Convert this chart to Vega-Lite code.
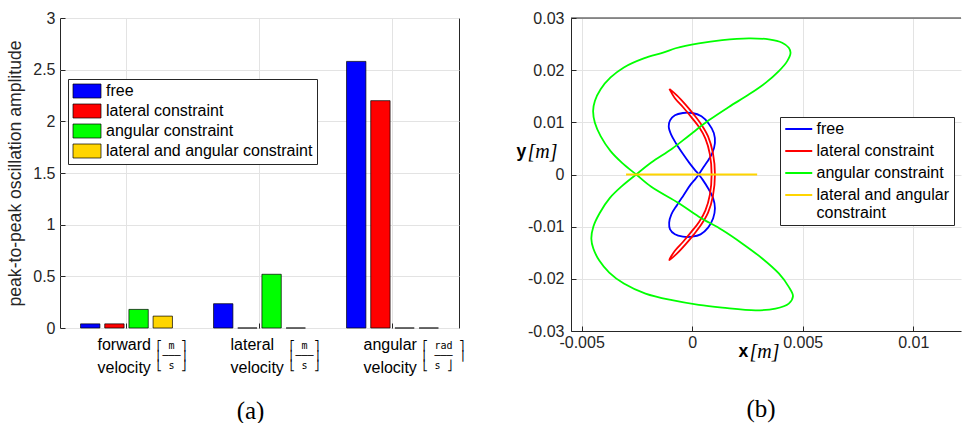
{
  "$schema": "https://vega.github.io/schema/vega-lite/v6.json",
  "usermeta": {"embedOptions": {"actions": false}},
  "background": "white",
  "padding": {"left": 6, "top": 9, "right": 0, "bottom": 0},
  "config": {
    "font": "Liberation Sans",
    "axis": {
      "labelFont": "Liberation Sans", "labelFontSize": 16, "labelColor": "#262626",
      "titleFont": "Liberation Sans", "titleFontWeight": "normal", "titleColor": "#262626",
      "domainColor": "#262626", "tickColor": "#262626", "gridColor": "#e3e3e3", "gridOpacity": 1
    },
    "view": {"stroke": "#262626", "strokeWidth": 1},
    "legend": {"labelFont": "Liberation Sans", "labelFontSize": 16, "labelColor": "#000"}
  },
  "datasets": {
    "bars": [
      {"cat": "forward velocity", "type": "free", "v": 0.04},
      {"cat": "forward velocity", "type": "lateral constraint", "v": 0.04},
      {"cat": "forward velocity", "type": "angular constraint", "v": 0.18},
      {"cat": "forward velocity", "type": "lateral and angular constraint", "v": 0.115},
      {"cat": "lateral velocity", "type": "free", "v": 0.235},
      {"cat": "lateral velocity", "type": "lateral constraint", "v": 0},
      {"cat": "lateral velocity", "type": "angular constraint", "v": 0.52},
      {"cat": "lateral velocity", "type": "lateral and angular constraint", "v": 0},
      {"cat": "angular velocity", "type": "free", "v": 2.58},
      {"cat": "angular velocity", "type": "lateral constraint", "v": 2.2},
      {"cat": "angular velocity", "type": "angular constraint", "v": 0},
      {"cat": "angular velocity", "type": "lateral and angular constraint", "v": 0}
    ],
    "traj": [
      {"s": "free", "i": 0, "x": 0.00030, "y": 0},
      {"s": "free", "i": 1, "x": 0.00048, "y": 0.00122},
      {"s": "free", "i": 2, "x": 0.00069, "y": 0.00250},
      {"s": "free", "i": 3, "x": 0.00091, "y": 0.00410},
      {"s": "free", "i": 4, "x": 0.00103, "y": 0.00603},
      {"s": "free", "i": 5, "x": 0.00098, "y": 0.00795},
      {"s": "free", "i": 6, "x": 0.00075, "y": 0.00974},
      {"s": "free", "i": 7, "x": 0.00042, "y": 0.01115},
      {"s": "free", "i": 8, "x": 0.00000, "y": 0.01179},
      {"s": "free", "i": 9, "x": -0.00042, "y": 0.01179},
      {"s": "free", "i": 10, "x": -0.00078, "y": 0.01135},
      {"s": "free", "i": 11, "x": -0.00100, "y": 0.01038},
      {"s": "free", "i": 12, "x": -0.00106, "y": 0.00923},
      {"s": "free", "i": 13, "x": -0.00095, "y": 0.00763},
      {"s": "free", "i": 14, "x": -0.00072, "y": 0.00590},
      {"s": "free", "i": 15, "x": -0.00042, "y": 0.00397},
      {"s": "free", "i": 16, "x": -0.00012, "y": 0.00218},
      {"s": "free", "i": 17, "x": 0.00012, "y": 0.00090},
      {"s": "free", "i": 18, "x": 0.00030, "y": 0},
      {"s": "free", "i": 19, "x": 0.00048, "y": -0.00103},
      {"s": "free", "i": 20, "x": 0.00072, "y": -0.00263},
      {"s": "free", "i": 21, "x": 0.00095, "y": -0.00455},
      {"s": "free", "i": 22, "x": 0.00103, "y": -0.00647},
      {"s": "free", "i": 23, "x": 0.00095, "y": -0.00840},
      {"s": "free", "i": 24, "x": 0.00072, "y": -0.01019},
      {"s": "free", "i": 25, "x": 0.00038, "y": -0.01147},
      {"s": "free", "i": 26, "x": 0.00000, "y": -0.01192},
      {"s": "free", "i": 27, "x": -0.00042, "y": -0.01192},
      {"s": "free", "i": 28, "x": -0.00078, "y": -0.01147},
      {"s": "free", "i": 29, "x": -0.00100, "y": -0.01051},
      {"s": "free", "i": 30, "x": -0.00104, "y": -0.00923},
      {"s": "free", "i": 31, "x": -0.00094, "y": -0.00763},
      {"s": "free", "i": 32, "x": -0.00068, "y": -0.00583},
      {"s": "free", "i": 33, "x": -0.00038, "y": -0.00391},
      {"s": "free", "i": 34, "x": -0.00008, "y": -0.00199},
      {"s": "free", "i": 35, "x": 0.00015, "y": -0.00083},
      {"s": "free", "i": 36, "x": 0.00030, "y": 0},
      {"s": "lateral constraint", "i": 0, "x": -0.00103, "y": 0.01641},
      {"s": "lateral constraint", "i": 1, "x": -0.00068, "y": 0.01513},
      {"s": "lateral constraint", "i": 2, "x": -0.00030, "y": 0.01340},
      {"s": "lateral constraint", "i": 3, "x": 0.00008, "y": 0.01147},
      {"s": "lateral constraint", "i": 4, "x": 0.00042, "y": 0.00955},
      {"s": "lateral constraint", "i": 5, "x": 0.00072, "y": 0.00731},
      {"s": "lateral constraint", "i": 6, "x": 0.00094, "y": 0.00410},
      {"s": "lateral constraint", "i": 7, "x": 0.00103, "y": 0},
      {"s": "lateral constraint", "i": 8, "x": 0.00094, "y": -0.00410},
      {"s": "lateral constraint", "i": 9, "x": 0.00072, "y": -0.00731},
      {"s": "lateral constraint", "i": 10, "x": 0.00042, "y": -0.00955},
      {"s": "lateral constraint", "i": 11, "x": 0.00008, "y": -0.01147},
      {"s": "lateral constraint", "i": 12, "x": -0.00030, "y": -0.01340},
      {"s": "lateral constraint", "i": 13, "x": -0.00068, "y": -0.01513},
      {"s": "lateral constraint", "i": 14, "x": -0.00103, "y": -0.01641},
      {"s": "lateral constraint", "i": 15, "x": -0.00078, "y": -0.01462},
      {"s": "lateral constraint", "i": 16, "x": -0.00041, "y": -0.01289},
      {"s": "lateral constraint", "i": 17, "x": -0.00003, "y": -0.01096},
      {"s": "lateral constraint", "i": 18, "x": 0.00032, "y": -0.00904},
      {"s": "lateral constraint", "i": 19, "x": 0.00060, "y": -0.00686},
      {"s": "lateral constraint", "i": 20, "x": 0.00080, "y": -0.00391},
      {"s": "lateral constraint", "i": 21, "x": 0.00088, "y": 0},
      {"s": "lateral constraint", "i": 22, "x": 0.00080, "y": 0.00391},
      {"s": "lateral constraint", "i": 23, "x": 0.00060, "y": 0.00686},
      {"s": "lateral constraint", "i": 24, "x": 0.00032, "y": 0.00904},
      {"s": "lateral constraint", "i": 25, "x": -0.00003, "y": 0.01096},
      {"s": "lateral constraint", "i": 26, "x": -0.00041, "y": 0.01289},
      {"s": "lateral constraint", "i": 27, "x": -0.00078, "y": 0.01462},
      {"s": "lateral constraint", "i": 28, "x": -0.00103, "y": 0.01641},
      {"s": "angular constraint", "i": 0, "x": -0.00253, "y": 0},
      {"s": "angular constraint", "i": 1, "x": -0.00185, "y": 0.00230},
      {"s": "angular constraint", "i": 2, "x": -0.00091, "y": 0.00494},
      {"s": "angular constraint", "i": 3, "x": -0.00015, "y": 0.00744},
      {"s": "angular constraint", "i": 4, "x": 0.00075, "y": 0.01038},
      {"s": "angular constraint", "i": 5, "x": 0.00166, "y": 0.01295},
      {"s": "angular constraint", "i": 6, "x": 0.00256, "y": 0.01532},
      {"s": "angular constraint", "i": 7, "x": 0.00332, "y": 0.01756},
      {"s": "angular constraint", "i": 8, "x": 0.00392, "y": 0.01981},
      {"s": "angular constraint", "i": 9, "x": 0.00430, "y": 0.02173},
      {"s": "angular constraint", "i": 10, "x": 0.00445, "y": 0.02333},
      {"s": "angular constraint", "i": 11, "x": 0.00437, "y": 0.02429},
      {"s": "angular constraint", "i": 12, "x": 0.00407, "y": 0.02526},
      {"s": "angular constraint", "i": 13, "x": 0.00347, "y": 0.02590},
      {"s": "angular constraint", "i": 14, "x": 0.00256, "y": 0.02609},
      {"s": "angular constraint", "i": 15, "x": 0.00136, "y": 0.02577},
      {"s": "angular constraint", "i": 16, "x": 0.00030, "y": 0.02515},
      {"s": "angular constraint", "i": 17, "x": -0.00075, "y": 0.02420},
      {"s": "angular constraint", "i": 18, "x": -0.00128, "y": 0.02340},
      {"s": "angular constraint", "i": 19, "x": -0.00219, "y": 0.02225},
      {"s": "angular constraint", "i": 20, "x": -0.00309, "y": 0.02052},
      {"s": "angular constraint", "i": 21, "x": -0.00369, "y": 0.01860},
      {"s": "angular constraint", "i": 22, "x": -0.00414, "y": 0.01635},
      {"s": "angular constraint", "i": 23, "x": -0.00440, "y": 0.01410},
      {"s": "angular constraint", "i": 24, "x": -0.00448, "y": 0.01218},
      {"s": "angular constraint", "i": 25, "x": -0.00440, "y": 0.00994},
      {"s": "angular constraint", "i": 26, "x": -0.00414, "y": 0.00737},
      {"s": "angular constraint", "i": 27, "x": -0.00369, "y": 0.00449},
      {"s": "angular constraint", "i": 28, "x": -0.00317, "y": 0.00224},
      {"s": "angular constraint", "i": 29, "x": -0.00253, "y": 0},
      {"s": "angular constraint", "i": 30, "x": -0.00185, "y": -0.00235},
      {"s": "angular constraint", "i": 31, "x": -0.00060, "y": -0.00551},
      {"s": "angular constraint", "i": 32, "x": 0.00030, "y": -0.00808},
      {"s": "angular constraint", "i": 33, "x": 0.00136, "y": -0.01064},
      {"s": "angular constraint", "i": 34, "x": 0.00226, "y": -0.01321},
      {"s": "angular constraint", "i": 35, "x": 0.00317, "y": -0.01609},
      {"s": "angular constraint", "i": 36, "x": 0.00392, "y": -0.01897},
      {"s": "angular constraint", "i": 37, "x": 0.00437, "y": -0.02154},
      {"s": "angular constraint", "i": 38, "x": 0.00456, "y": -0.02333},
      {"s": "angular constraint", "i": 39, "x": 0.00437, "y": -0.02474},
      {"s": "angular constraint", "i": 40, "x": 0.00377, "y": -0.02571},
      {"s": "angular constraint", "i": 41, "x": 0.00287, "y": -0.02603},
      {"s": "angular constraint", "i": 42, "x": 0.00136, "y": -0.02551},
      {"s": "angular constraint", "i": 43, "x": 0.00030, "y": -0.02500},
      {"s": "angular constraint", "i": 44, "x": -0.00091, "y": -0.02410},
      {"s": "angular constraint", "i": 45, "x": -0.00211, "y": -0.02282},
      {"s": "angular constraint", "i": 46, "x": -0.00309, "y": -0.02090},
      {"s": "angular constraint", "i": 47, "x": -0.00375, "y": -0.01880},
      {"s": "angular constraint", "i": 48, "x": -0.00420, "y": -0.01650},
      {"s": "angular constraint", "i": 49, "x": -0.00447, "y": -0.01420},
      {"s": "angular constraint", "i": 50, "x": -0.00456, "y": -0.01230},
      {"s": "angular constraint", "i": 51, "x": -0.00447, "y": -0.01000},
      {"s": "angular constraint", "i": 52, "x": -0.00418, "y": -0.00737},
      {"s": "angular constraint", "i": 53, "x": -0.00372, "y": -0.00449},
      {"s": "angular constraint", "i": 54, "x": -0.00318, "y": -0.00224},
      {"s": "angular constraint", "i": 55, "x": -0.00253, "y": 0},
      {"s": "lateral and angular constraint", "i": 0, "x": -0.00299, "y": 0},
      {"s": "lateral and angular constraint", "i": 1, "x": 0.00294, "y": 0}
    ]
  },
  "resolve": {"scale": {"color": "independent"}},
  "spacing": 51,
  "hconcat": [
    {
      "width": 399,
      "height": 310,
      "title": {"text": "(a)", "orient": "bottom", "font": "Liberation Serif", "fontSize": 25, "fontWeight": "normal", "color": "#000", "offset": 24, "dx": -9},
      "data": {"name": "bars"},
      "layer": [
        {
          "mark": {"type": "bar", "stroke": "#000", "strokeWidth": 0.7},
          "encoding": {
            "x": {
              "field": "cat", "type": "nominal",
              "sort": ["forward velocity", "lateral velocity", "angular velocity"],
              "scale": {"paddingInner": 0, "paddingOuter": 0},
              "axis": {
                "orient": "bottom", "title": null, "labelAngle": 0, "labelAlign": "left", "labelBaseline": "top",
                "labelOffset": -29, "labelPadding": 13, "labelLineHeight": 23, "labelColor": "#000",
                "labelExpr": "split(datum.value, ' ')", "bandPosition": 0.5,
                "grid": true, "ticks": true, "tickSize": -5, "domain": false
              }
            },
            "xOffset": {
              "field": "type", "type": "nominal",
              "sort": ["free", "lateral constraint", "angular constraint", "lateral and angular constraint"],
              "scale": {"paddingInner": 0.2, "paddingOuter": 0.85}
            },
            "y": {
              "field": "v", "type": "quantitative",
              "scale": {"domain": [0, 3], "nice": false},
              "axis": {
                "title": "peak-to-peak oscillation amplitude", "titleFontSize": 17.6, "titlePadding": 8,
                "values": [0, 0.5, 1, 1.5, 2, 2.5, 3], "format": "~g",
                "tickSize": -5, "labelPadding": 10, "grid": true, "domain": false
              }
            },
            "color": {
              "field": "type", "type": "nominal",
              "scale": {
                "domain": ["free", "lateral constraint", "angular constraint", "lateral and angular constraint"],
                "range": ["#0000ff", "#ff0000", "#00ff00", "#ffd500"]
              },
              "legend": {
                "orient": "none", "legendX": 8, "legendY": 61, "title": null, "direction": "vertical",
                "symbolType": "M-1,-1H3V1H-1Z", "symbolSize": 196, "symbolStrokeColor": "#000", "symbolStrokeWidth": 0.7,
                "symbolOpacity": 1, "labelOffset": 18, "padding": 4, "rowPadding": 2,
                "strokeColor": "#262626", "fillColor": "white", "labelLimit": 400
              }
            }
          }
        },
        {
          "mark": {"type": "text", "text": ""},
          "encoding": {
            "x": {
              "field": "cat", "type": "nominal",
              "sort": ["forward velocity", "lateral velocity", "angular velocity"],
              "axis": {
                "orient": "bottom", "title": null, "labelAngle": 0, "labelAlign": "left", "labelBaseline": "top",
                "labelOffset": 30, "labelPadding": 12, "labelFont": "DejaVu Sans Mono", "labelFontSize": 10,
                "labelLineHeight": 10, "labelColor": "#000",
                "labelExpr": "datum.value == 'angular velocity' ? ['⎡ rad ⎤', '⎢ ─── ⎥', '⎣  s  ⎦'] : ['⎡ m ⎤', '⎢───⎥', '⎣ s ⎦']",
                "grid": false, "ticks": false, "domain": false
              }
            }
          }
        }
      ],
      "resolve": {"axis": {"x": "independent"}}
    },
    {
      "width": 390,
      "height": 313,
      "view": {"stroke": null},
      "title": {"text": "(b)", "orient": "bottom", "font": "Liberation Serif", "fontSize": 25, "fontWeight": "normal", "color": "#000", "offset": 36, "dx": -5},
      "layer": [
        {
          "data": {"name": "traj"},
          "mark": {"type": "line", "strokeWidth": 1.8, "interpolate": "catmull-rom"},
          "encoding": {
            "x": {
              "field": "x", "type": "quantitative",
              "scale": {"domain": [-0.00548, 0.01216], "nice": false, "zero": false},
              "axis": {
                "orient": "bottom", "values": [-0.005, 0, 0.005, 0.01],
                "labelExpr": "datum.value < 0 ? '-' + format(-datum.value, '~g') : format(datum.value, '~g')",
                "tickSize": -5, "labelPadding": 8, "grid": true, "domain": true,
                "title": "x", "titleFontWeight": "bold", "titleFontSize": 17.6, "titleColor": "#000",
                "titleX": 167, "titleY": 20, "titleAlign": "left", "titleBaseline": "middle"
              }
            },
            "y": {
              "field": "y", "type": "quantitative",
              "scale": {"domain": [-0.03, 0.03], "nice": false, "zero": false},
              "axis": {
                "orient": "left", "values": [-0.03, -0.02, -0.01, 0, 0.01, 0.02, 0.03],
                "labelExpr": "datum.value < 0 ? '-' + format(-datum.value, '~g') : format(datum.value, '~g')",
                "tickSize": -5, "labelPadding": 12, "grid": true, "domain": true,
                "title": "y", "titleFontWeight": "bold", "titleFontSize": 17.6, "titleColor": "#000", "titleAngle": 0,
                "titleX": -55, "titleY": 133, "titleAlign": "left", "titleBaseline": "middle"
              }
            },
            "color": {
              "field": "s", "type": "nominal",
              "scale": {
                "domain": ["free", "lateral constraint", "angular constraint", "lateral and angular constraint"],
                "range": ["#0000ff", "#ff0000", "#00ff00", "#ffd500"]
              },
              "legend": {
                "orient": "none", "legendX": 209, "legendY": 99, "title": null, "direction": "vertical",
                "symbolType": "M-1,0H3", "symbolSize": 182, "symbolStrokeWidth": 2,
                "labelOffset": 16.5, "padding": 4, "rowPadding": 6,
                "strokeColor": "#262626", "fillColor": "white", "labelLimit": 400,
                "labelExpr": "datum.label == 'lateral and angular constraint' ? ['lateral and angular', ' constraint'] : datum.label"
              }
            },
            "order": {"field": "i", "type": "quantitative"}
          }
        },
        {
          "data": {"name": "traj"},
          "mark": {"type": "point", "opacity": 0},
          "encoding": {
            "x": {
              "field": "x", "type": "quantitative",
              "axis": {
                "orient": "bottom", "labels": false, "ticks": false, "domain": false, "grid": false,
                "title": "[m]", "titleFont": "Liberation Serif", "titleFontStyle": "italic", "titleFontSize": 20,
                "titleFontWeight": "normal", "titleColor": "#000",
                "titleX": 178, "titleY": 20, "titleAlign": "left", "titleBaseline": "middle"
              }
            },
            "y": {
              "field": "y", "type": "quantitative",
              "axis": {
                "orient": "left", "labels": false, "ticks": false, "domain": false, "grid": false,
                "title": "[m]", "titleFont": "Liberation Serif", "titleFontStyle": "italic", "titleFontSize": 20,
                "titleFontWeight": "normal", "titleColor": "#000", "titleAngle": 0,
                "titleX": -44, "titleY": 133, "titleAlign": "left", "titleBaseline": "middle"
              }
            }
          }
        },
        {
          "data": {"values": [{}]},
          "mark": {"type": "rule", "color": "#262626", "strokeWidth": 1},
          "encoding": {"y": {"datum": 0.03, "type": "quantitative", "axis": null}}
        }
      ],
      "resolve": {"axis": {"x": "independent", "y": "independent"}}
    }
  ]
}
